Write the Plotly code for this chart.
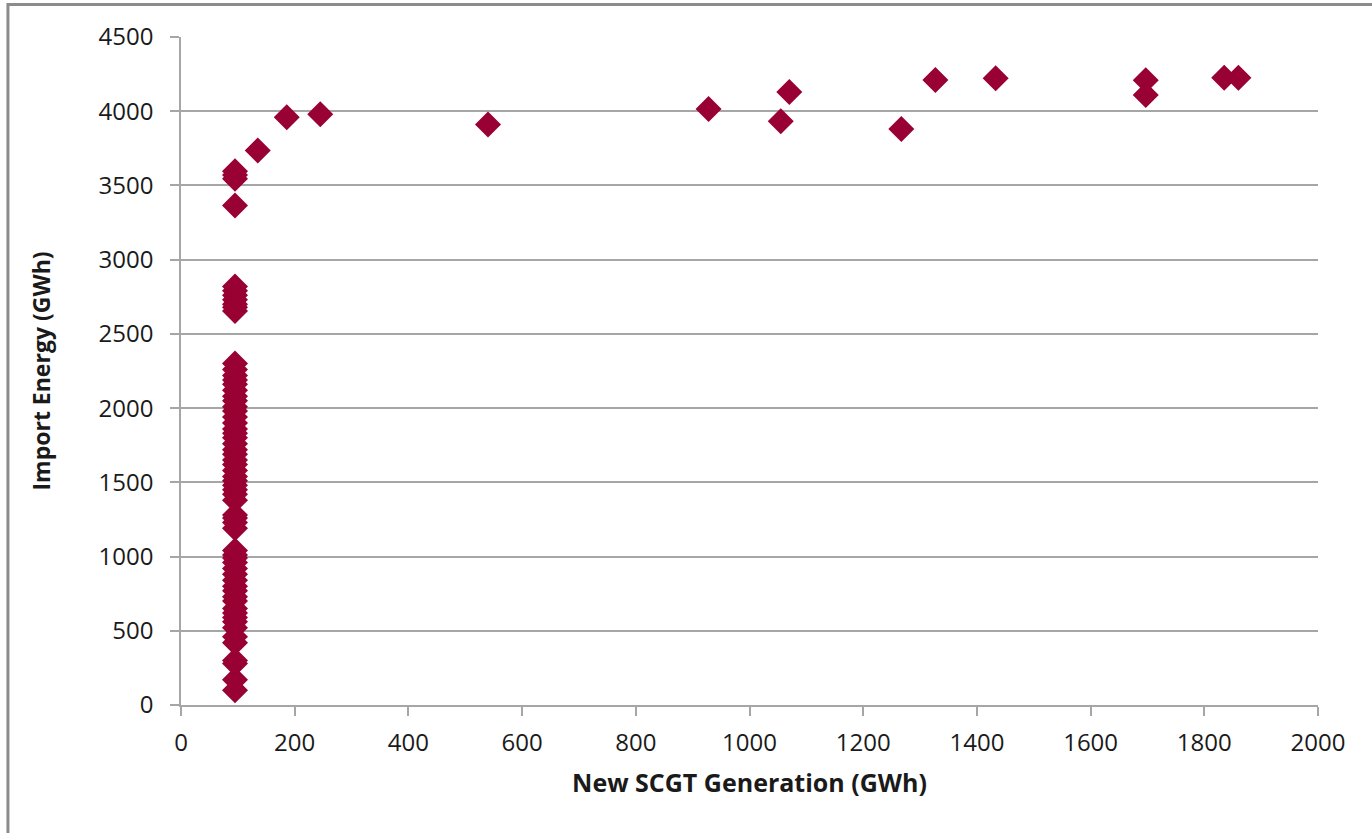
import plotly.graph_objects as go

# Dense column of points at roughly 95 GWh of new SCGT generation
column_x = 95
column_y = [100, 170, 280, 300, 420, 460, 520, 560, 590, 620, 650, 700, 730, 770,
            800, 840, 880, 920, 960, 990, 1010, 1040, 1190, 1230, 1260, 1280,
            1380, 1420, 1450, 1480, 1510, 1540, 1580, 1620, 1650, 1690, 1720,
            1760, 1800, 1830, 1860, 1900, 1940, 1980, 2010, 2050, 2080, 2120,
            2160, 2190, 2220, 2260, 2300,
            2655, 2680, 2700, 2730, 2760, 2790, 2820,
            3365, 3545, 3570, 3595]

# Remaining scattered points
other_x = [135, 186, 245, 540, 928, 1055, 1070, 1267, 1327, 1433, 1697, 1697, 1835, 1860]
other_y = [3735, 3960, 3980, 3910, 4015, 3932, 4130, 3880, 4210, 4222, 4208, 4110, 4225, 4225]

x_vals = [column_x] * len(column_y) + other_x
y_vals = column_y + other_y

x_ticks = list(range(0, 2001, 200))
y_ticks = list(range(0, 4501, 500))

FONT = "Open Sans, sans-serif"
GRID = "#a6a6a6"

fig = go.Figure(go.Scatter(
    x=x_vals, y=y_vals, mode="markers",
    marker=dict(symbol="diamond", size=20, color="#990033", line=dict(width=0)),
    showlegend=False, cliponaxis=False,
))

fig.update_layout(
    width=1372, height=833,
    margin=dict(l=181, r=54, t=37, b=128),
    paper_bgcolor="white", plot_bgcolor="white",
    font=dict(family=FONT, size=24, color="#1a1a1a"),
    xaxis=dict(
        range=[0, 2000], tickvals=x_ticks, ticktext=[str(v) for v in x_ticks],
        showgrid=False, zeroline=False,
        showline=True, linecolor=GRID, linewidth=1.5,
        ticks="outside", ticklen=9, tickcolor=GRID, tickwidth=1.5,
        tickfont=dict(family=FONT, size=24), ticklabelstandoff=6,
        title=dict(text="<b>New SCGT Generation (GWh)</b>", font=dict(family=FONT, size=25), standoff=18),
    ),
    yaxis=dict(
        range=[0, 4500], tickvals=y_ticks, ticktext=[str(v) for v in y_ticks],
        showgrid=True, gridcolor=GRID, gridwidth=1.5, zeroline=False,
        showline=True, linecolor=GRID, linewidth=1.5,
        ticks="outside", ticklen=9, tickcolor=GRID, tickwidth=1.5,
        tickfont=dict(family=FONT, size=24), ticklabelstandoff=12,
        title=dict(text="<b>Import Energy (GWh)</b>", font=dict(family=FONT, size=23), standoff=42),
    ),
    shapes=[dict(type="rect", xref="paper", yref="paper",
                 x0=-0.1522, x1=1.06, y0=-0.22, y1=1.0487,
                 line=dict(color="#8c8c8c", width=3), fillcolor="rgba(0,0,0,0)", layer="above")],
)

fig.write_html("out.html")
